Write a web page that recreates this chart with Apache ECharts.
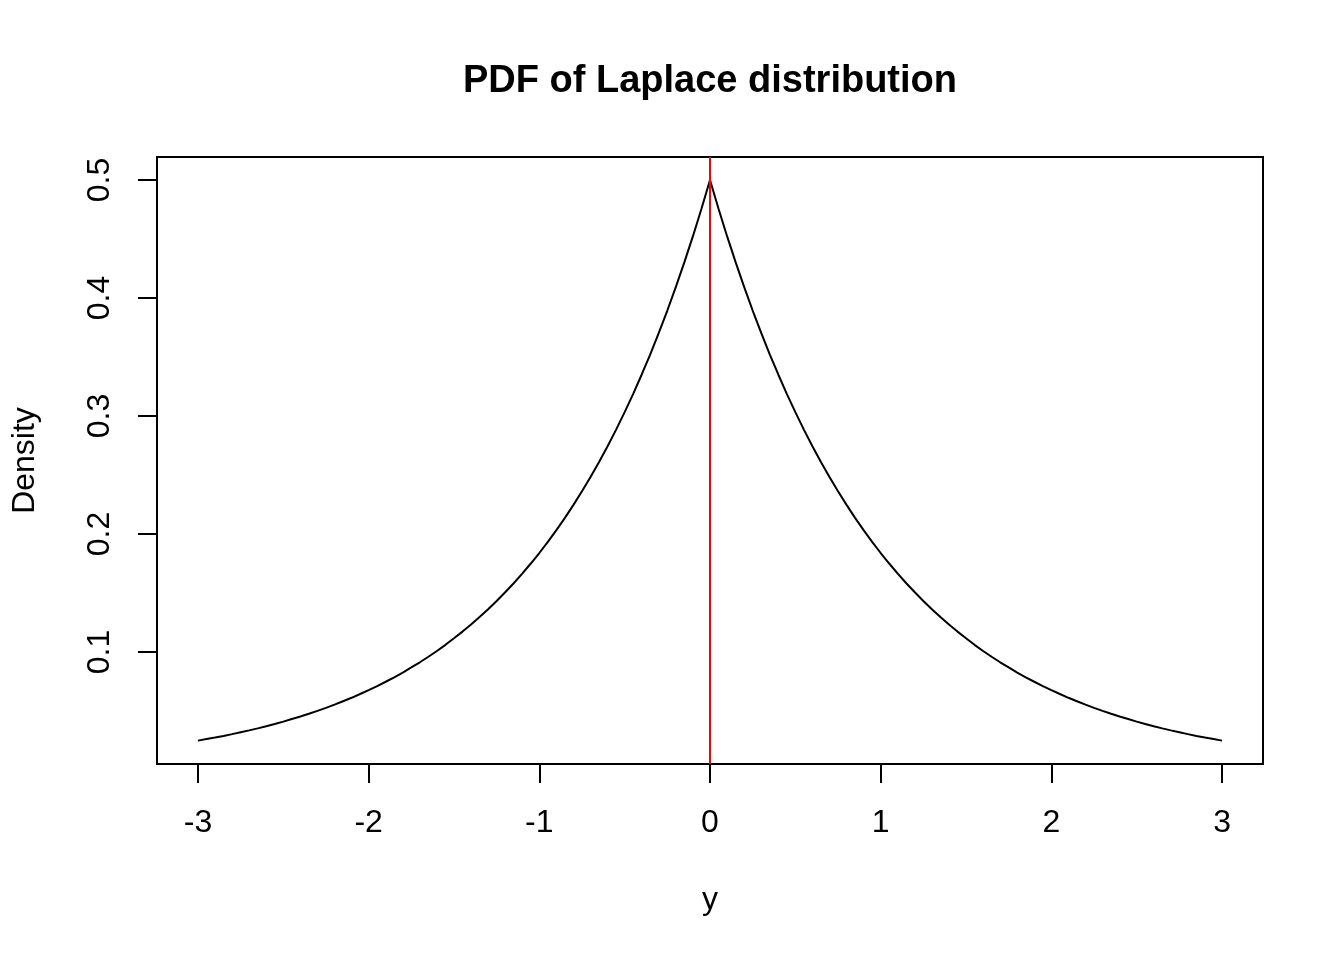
<!DOCTYPE html>
<html>
<head>
<meta charset="utf-8">
<script src="https://cdn.jsdelivr.net/npm/echarts@6/dist/echarts.min.js"></script>
<style>
  html, body { margin: 0; padding: 0; background: #fff; }
  #main { width: 1344px; height: 960px; }
</style>
</head>
<body>
<div id="main"></div>
<script>
var dom = document.getElementById("main");
var myChart = echarts.init(dom);

// points
var yPoints = [
  -3.00, -2.95, -2.90, -2.85, -2.80, -2.75, -2.70, -2.65, -2.60, -2.55,
  -2.50, -2.45, -2.40, -2.35, -2.30, -2.25, -2.20, -2.15, -2.10, -2.05,
  -2.00, -1.95, -1.90, -1.85, -1.80, -1.75, -1.70, -1.65, -1.60, -1.55,
  -1.50, -1.45, -1.40, -1.35, -1.30, -1.25, -1.20, -1.15, -1.10, -1.05,
  -1.00, -0.95, -0.90, -0.85, -0.80, -0.75, -0.70, -0.65, -0.60, -0.55,
  -0.50, -0.45, -0.40, -0.35, -0.30, -0.25, -0.20, -0.15, -0.10, -0.05,
  0.00,
  0.05, 0.10, 0.15, 0.20, 0.25, 0.30, 0.35, 0.40, 0.45, 0.50,
  0.55, 0.60, 0.65, 0.70, 0.75, 0.80, 0.85, 0.90, 0.95, 1.00,
  1.05, 1.10, 1.15, 1.20, 1.25, 1.30, 1.35, 1.40, 1.45, 1.50,
  1.55, 1.60, 1.65, 1.70, 1.75, 1.80, 1.85, 1.90, 1.95, 2.00,
  2.05, 2.10, 2.15, 2.20, 2.25, 2.30, 2.35, 2.40, 2.45, 2.50,
  2.55, 2.60, 2.65, 2.70, 2.75, 2.80, 2.85, 2.90, 2.95, 3.00
];
var density = [
  0.0249, 0.0262, 0.0275, 0.0289, 0.0304, 0.0320, 0.0336, 0.0353, 0.0371, 0.0390,
  0.0410, 0.0432, 0.0454, 0.0477, 0.0501, 0.0527, 0.0554, 0.0583, 0.0612, 0.0644,
  0.0677, 0.0711, 0.0748, 0.0786, 0.0826, 0.0869, 0.0913, 0.0960, 0.1009, 0.1061,
  0.1116, 0.1173, 0.1233, 0.1296, 0.1363, 0.1433, 0.1506, 0.1583, 0.1664, 0.1750,
  0.1839, 0.1934, 0.2033, 0.2137, 0.2247, 0.2362, 0.2483, 0.2610, 0.2744, 0.2885,
  0.3033, 0.3188, 0.3352, 0.3523, 0.3704, 0.3894, 0.4094, 0.4304, 0.4524, 0.4756,
  0.5000,
  0.4756, 0.4524, 0.4304, 0.4094, 0.3894, 0.3704, 0.3523, 0.3352, 0.3188, 0.3033,
  0.2885, 0.2744, 0.2610, 0.2483, 0.2362, 0.2247, 0.2137, 0.2033, 0.1934, 0.1839,
  0.1750, 0.1664, 0.1583, 0.1506, 0.1433, 0.1363, 0.1296, 0.1233, 0.1173, 0.1116,
  0.1061, 0.1009, 0.0960, 0.0913, 0.0869, 0.0826, 0.0786, 0.0748, 0.0711, 0.0677,
  0.0644, 0.0612, 0.0583, 0.0554, 0.0527, 0.0501, 0.0477, 0.0454, 0.0432, 0.0410,
  0.0390, 0.0371, 0.0353, 0.0336, 0.0320, 0.0304, 0.0289, 0.0275, 0.0262, 0.0249
];
var xTicks = [-3, -2, -1, 0, 1, 2, 3];
var yTicks = [0.1, 0.2, 0.3, 0.4, 0.5];
var peakAt = 0;

var lineData = [];
for (var i = 0; i < yPoints.length; i++) {
    lineData.push([yPoints[i], density[i]]);
}

var font = "'Liberation Sans', Arial, Helvetica, sans-serif";

option = {
    animation: false,
    backgroundColor: '#ffffff',
    graphic: [
        {
            type: 'text',
            x: 710,
            y: 82,
            style: {
                text: 'PDF of Laplace distribution',
                fontFamily: font,
                fontSize: 38,
                fontWeight: 'bold',
                fill: '#000',
                align: 'center',
                verticalAlign: 'middle'
            }
        }
    ],
    grid: {
        left: 157,
        top: 157,
        width: 1106,
        height: 607,
        show: true,
        borderColor: '#000',
        borderWidth: 2,
        backgroundColor: 'transparent'
    },
    xAxis: {
        type: 'value',
        min: -3.24,
        max: 3.24,
        name: 'y',
        nameLocation: 'middle',
        nameGap: 120,
        nameTextStyle: { fontFamily: font, fontSize: 32, color: '#000' },
        axisLine: { show: false, onZero: false },
        splitLine: { show: false },
        axisTick: {
            show: true,
            length: 19,
            customValues: xTicks,
            lineStyle: { color: '#000', width: 2 }
        },
        axisLabel: {
            customValues: xTicks,
            margin: 43,
            fontFamily: font,
            fontSize: 32,
            color: '#000'
        }
    },
    yAxis: {
        type: 'value',
        min: 0.0051,
        max: 0.5195,
        name: 'Density',
        nameLocation: 'middle',
        nameGap: 116,
        nameTextStyle: { fontFamily: font, fontSize: 32, color: '#000' },
        axisLine: { show: false, onZero: false },
        splitLine: { show: false },
        axisTick: {
            show: true,
            length: 19,
            customValues: yTicks,
            lineStyle: { color: '#000', width: 2 }
        },
        axisLabel: {
            customValues: yTicks,
            rotate: 90,
            margin: 41,
            fontFamily: font,
            fontSize: 32,
            color: '#000',
            formatter: function (v) { return v.toFixed(1); }
        }
    },
    series: [
        {
            type: 'line',
            data: lineData,
            showSymbol: false,
            smooth: false,
            lineStyle: { color: '#000', width: 2 },
            markLine: {
                silent: true,
                symbol: ['none', 'none'],
                label: { show: false },
                lineStyle: { color: '#ff0000', width: 2, type: 'solid' },
                data: [{ xAxis: peakAt }]
            }
        }
    ]
};

myChart.setOption(option);
</script>
</body>
</html>
